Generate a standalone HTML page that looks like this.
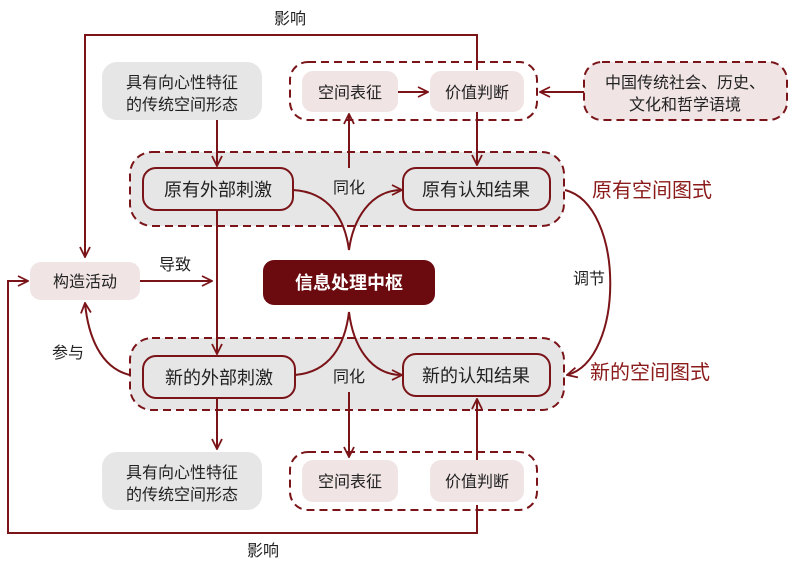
<!DOCTYPE html>
<html><head><meta charset="utf-8"><style>
html,body{margin:0;padding:0;background:#fff;}
svg{display:block;}
text{font-family:"Liberation Sans","Noto Sans CJK SC",sans-serif;}
</style></head><body>
<svg width="800" height="567" viewBox="0 0 800 567" xmlns="http://www.w3.org/2000/svg">
<defs>
<marker id="a" viewBox="0 0 12 12" refX="11" refY="6" markerWidth="12" markerHeight="12" markerUnits="userSpaceOnUse" orient="auto">
<path d="M1,1 L11,6 L1,11" fill="none" stroke="#7a1418" stroke-width="1.8"/>
</marker>
</defs>
<g fill="none" stroke="#7a1418" stroke-width="2">
<rect x="130" y="152" width="434" height="74" rx="22" fill="#e6e6e6" stroke-dasharray="8,5"/>
<rect x="130" y="338" width="434" height="72" rx="22" fill="#e6e6e6" stroke-dasharray="8,5"/>
<rect x="290" y="62" width="247" height="58" rx="18" fill="#fff" stroke-dasharray="8,5"/>
<rect x="290" y="452" width="247" height="58" rx="18" fill="#fff" stroke-dasharray="8,5"/>
<rect x="584" y="62" width="203" height="58" rx="18" fill="#f0e4e4" stroke-dasharray="8,5"/>
<polyline points="477,70 477,35 85,35 85,257" marker-end="url(#a)"/>
<polyline points="477,505 477,533 8,533 8,281 28,281" marker-end="url(#a)"/>
<line x1="477" y1="112" x2="477" y2="165" marker-end="url(#a)"/>
<line x1="398" y1="92" x2="428" y2="92" marker-end="url(#a)"/>
<line x1="584" y1="92" x2="540" y2="92" marker-end="url(#a)"/>
<line x1="217" y1="120" x2="217" y2="166" marker-end="url(#a)"/>
<line x1="217" y1="210" x2="217" y2="354" marker-end="url(#a)"/>
<line x1="140" y1="281" x2="212" y2="281" marker-end="url(#a)"/>
<line x1="349" y1="168" x2="349" y2="114" marker-end="url(#a)"/>
<path d="M293,190 C330,192 345,220 349,250 C353,220 370,190 402,190" marker-end="url(#a)"/>
<path d="M565,190 C625,205 625,360 567,375" marker-end="url(#a)"/>
<path d="M295,375 C330,372 345,345 349,312 C353,345 370,375 402,375" marker-end="url(#a)"/>
<path d="M130,375 C100,368 88,335 85,303" marker-end="url(#a)"/>
<line x1="217" y1="398" x2="217" y2="449" marker-end="url(#a)"/>
<line x1="349" y1="392" x2="349" y2="457" marker-end="url(#a)"/>
<line x1="477" y1="460" x2="477" y2="399" marker-end="url(#a)"/>
<rect x="143" y="168" width="150" height="42" rx="13" fill="#e6e6e6"/>
<rect x="403" y="168" width="147" height="42" rx="13" fill="#e6e6e6"/>
<rect x="143" y="356" width="152" height="42" rx="13" fill="#e6e6e6"/>
<rect x="403" y="354" width="147" height="42" rx="13" fill="#e6e6e6"/>
</g>
<g stroke="none">
<rect x="102" y="62" width="160" height="58" rx="15" fill="#e6e6e6"/>
<rect x="102" y="452" width="160" height="58" rx="15" fill="#e6e6e6"/>
<rect x="302" y="71" width="96" height="41" rx="11" fill="#f0e4e4"/>
<rect x="430" y="71" width="94" height="41" rx="11" fill="#f0e4e4"/>
<rect x="302" y="460" width="96" height="42" rx="11" fill="#f0e4e4"/>
<rect x="430" y="460" width="94" height="42" rx="11" fill="#f0e4e4"/>
<rect x="30" y="262" width="110" height="38" rx="11" fill="#f0e4e4"/>
<rect x="263" y="260" width="172" height="45" rx="11" fill="#6b0a0f"/>
</g>
<g fill="#222" font-size="16" text-anchor="middle">
<text x="290" y="24">影响</text>
<text x="263" y="556">影响</text>
<text x="182" y="88">具有向心性特征</text>
<text x="182" y="110">的传统空间形态</text>
<text x="182" y="478">具有向心性特征</text>
<text x="182" y="500">的传统空间形态</text>
<text x="350" y="98">空间表征</text>
<text x="477" y="98">价值判断</text>
<text x="350" y="487">空间表征</text>
<text x="477" y="487">价值判断</text>
<text x="685" y="88">中国传统社会、历史、</text>
<text x="685" y="110">文化和哲学语境</text>
<text x="85" y="287">构造活动</text>
<text x="175" y="270">导致</text>
<text x="68" y="358">参与</text>
<text x="589" y="284">调节</text>
<text x="349" y="193">同化</text>
<text x="349" y="382">同化</text>
<text x="218" y="196" font-size="18">原有外部刺激</text>
<text x="476" y="196" font-size="18">原有认知结果</text>
<text x="219" y="384" font-size="18">新的外部刺激</text>
<text x="476" y="382" font-size="18">新的认知结果</text>
<text x="349" y="289" font-size="18" font-weight="bold" fill="#fff">信息处理中枢</text>
</g>
<g fill="#8b1a1a" font-size="20">
<text x="592" y="197">原有空间图式</text>
<text x="590" y="379">新的空间图式</text>
</g>
</svg>
</body></html>
